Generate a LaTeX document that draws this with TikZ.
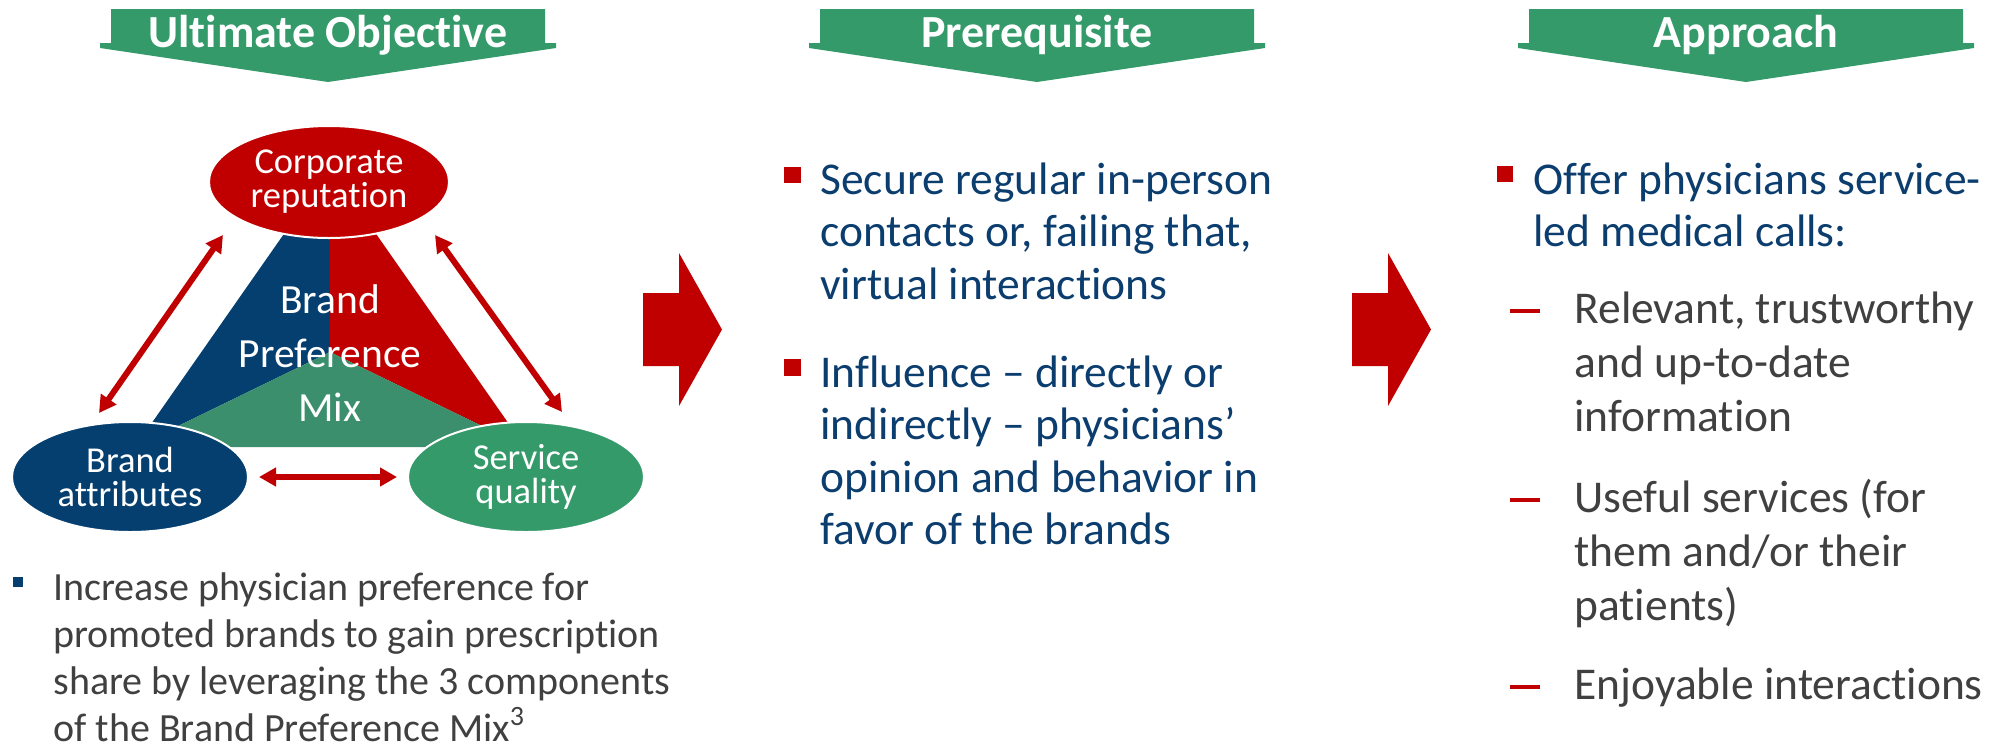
\documentclass[tikz,border=0pt]{standalone}
\usepackage{fontspec}
\setmainfont{Carlito}[RawFeature=-liga]
\usepackage{xcolor}
\usetikzlibrary{arrows.meta,calc,positioning,shapes.geometric}
\definecolor{mkred}{RGB}{192,0,0}
\definecolor{mkblue}{RGB}{5,63,112}
\definecolor{mkgreen}{RGB}{53,154,106}
\definecolor{mktri}{RGB}{59,143,109}
\definecolor{mktext}{RGB}{11,61,110}
\definecolor{mkgray}{RGB}{64,64,64}

\begin{document}
\begin{tikzpicture}[x=0.5pt,y=-0.5pt,
  bantext/.style={font=\fontsize{23}{27}\selectfont\bfseries,text=white,inner sep=0pt,anchor=base},
  comp/.style={ellipse,draw=white,line width=1pt,minimum width=118pt,minimum height=55pt,inner sep=0pt,
    text=white,align=center,font=\fontsize{18.25}{17}\selectfont},
  mixtext/.style={text=white,align=center,inner sep=0pt,anchor=base,font=\fontsize{20.75}{27}\selectfont},
  body/.style={text=mktext,align=left,inner sep=0pt,anchor=base west,font=\fontsize{22.75}{26.25}\selectfont},
  subtext/.style={text=mkgray,align=left,inner sep=0pt,anchor=base west,font=\fontsize{22.75}{27}\selectfont},
  biarrow/.style={{Triangle[length=8.5pt,width=9pt]}-{Triangle[length=8.5pt,width=9pt]},mkred,line width=3pt},
  dashbul/.style={mkred,line width=2pt}]
  \useasboundingbox (0,0) rectangle (2006,750);
  % banners
  \foreach \cx/\lbl/\nm in {328/Ultimate Objective/obj,1037/Prerequisite/pre,1746/Approach/app}{
    \fill[mkgreen] (\cx-217,9) -- (\cx+217,9) -- (\cx+217,43) -- (\cx+228,43) -- (\cx+228,48) -- (\cx,82)
      -- (\cx-228,48) -- (\cx-228,43) -- (\cx-217,43) -- cycle;
    \node[bantext] (\nm) at (\cx,47) {\lbl};
  }
  % big arrows
  \foreach \dx in {0,709}{
    \fill[mkred] (643+\dx,293) -- (679+\dx,293) -- (679+\dx,253) -- (722+\dx,329.5) -- (679+\dx,406)
      -- (679+\dx,366) -- (643+\dx,366) -- cycle;
  }
  % triangle
  \coordinate (apex) at (330,168); \coordinate (tl) at (135,447); \coordinate (tr) at (525,447);
  \coordinate (mid) at (330,352);
  \fill[mkblue] (apex) -- (mid) -- (tl) -- cycle;
  \fill[mkred] (apex) -- (tr) -- (mid) -- cycle;
  \fill[mktri] (tl) -- (mid) -- (tr) -- cycle;
  \node[mixtext] (bpm) at (330,421) {Brand\\Preference\\Mix};
  \node[comp,fill=mkred,minimum width=120pt,minimum height=56pt] (corp) at (329,182) {Corporate\\reputation};
  \node[comp,fill=mkblue] (brand) at (130,477) {Brand\\attributes};
  \node[comp,fill=mkgreen] (serv) at (526,477) {Service\\quality};
  \coordinate (cl) at (223,235); \coordinate (bl) at (99,413);
  \coordinate (cr) at (435,235); \coordinate (sr) at (562,412);
  \draw[biarrow] (cl) -- (bl);
  \draw[biarrow] (cr) -- (sr);
  \draw[biarrow,shorten <=5pt,shorten >=5pt] (brand) -- (serv);
  % texts
  \fill[mkblue] (13,577) rectangle (23,587);
  \node[subtext,font=\fontsize{20}{23.5}\selectfont] (goal) at (53,741) {Increase physician preference for\\promoted brands to gain prescription\\share by leveraging the 3 components\\of the Brand Preference Mix\textsuperscript{3}};
  \fill[mkred] (784,167) rectangle (801,183);
  \node[body] (secure) at (820,299) {Secure regular in-person\\contacts or, failing that,\\virtual interactions};
  \fill[mkred] (784,359) rectangle (801,376);
  \node[body] (influ) at (820,544.5) {Influence – directly or\\indirectly – physicians’\\opinion and behavior in\\favor of the brands};
  \fill[mkred] (1497,166) rectangle (1513,182);
  \node[body] (offer) at (1533,246.5) {Offer physicians service-\\led medical calls:};
  \foreach \y in {311,500,687} \draw[dashbul] (1510,\y) -- (1540,\y);
  \node[subtext] (relev) at (1574,431) {Relevant, trustworthy\\and up-to-date\\information};
  \node[subtext] (useful) at (1574,620) {Useful services (for\\them and/or their\\patients)};
  \node[subtext] (enjoy) at (1574,699) {Enjoyable interactions};
\end{tikzpicture}
\end{document}
